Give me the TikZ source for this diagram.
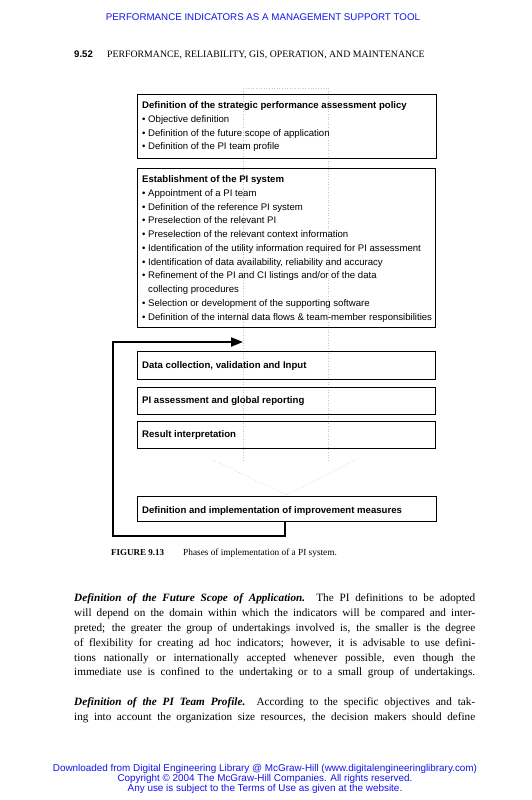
\documentclass[tikz,border=0pt]{standalone}
\usepackage{fontspec}
\setmainfont{Liberation Serif}
\setsansfont{Liberation Sans}
\usepackage{xcolor}
\usetikzlibrary{arrows.meta}
\definecolor{linkblue}{RGB}{20,20,235}

\tikzset{
  phase/.style={draw, line width=0.9pt, inner sep=0pt, anchor=north west},
  boxtext/.style={font=\sffamily\fontsize{9.6}{13.75}\selectfont, align=left, anchor=north west, inner sep=0pt},
  bodyline/.style={font=\fontsize{11.2}{14}\selectfont, anchor=base west, inner sep=0pt},
  ghost/.style={gray!45, dotted, line width=0.6pt}
}

\begin{document}
\begin{tikzpicture}[x=1pt, y=-1pt]
\useasboundingbox[fill=white] (0,0) rectangle (531,800);

% Page header
\node[font=\sffamily\fontsize{9.75}{11}\selectfont, text=linkblue, anchor=base] (runhead) at (263,21) {PERFORMANCE INDICATORS AS A MANAGEMENT SUPPORT TOOL};
\node[font=\sffamily\bfseries\fontsize{9.6}{11}\selectfont, anchor=base west, inner sep=0pt] (pagenum) at (74,57) {9.52};
\node[font=\fontsize{9.8}{11}\selectfont, anchor=base west, inner sep=0pt] (chapter) at (107,57) {PERFORMANCE, RELIABILITY, GIS, OPERATION, AND MAINTENANCE};

% Faint traces of the original arrows
\draw[ghost] (243,88) -- (328,88);
\draw[ghost] (243,88) -- (243,462);
\draw[ghost] (328,88) -- (328,462);
\draw[ghost] (213,460) -- (287,495);
\draw[ghost] (357,459) -- (287,495);

% Phase boxes
\node[phase, minimum width=299pt, minimum height=64pt] (policy) at (137,94) {};
\node[boxtext] at (142,101.5) {\textbf{Definition of the strategic performance assessment policy}\\
  • Objective definition\\
  • Definition of the future scope of application\\
  • Definition of the PI team profile};

\node[phase, minimum width=298pt, minimum height=159pt] (establish) at (137,168) {};
\node[boxtext] at (142,175.5) {\textbf{Establishment of the PI system}\\
  • Appointment of a PI team\\
  • Definition of the reference PI system\\
  • Preselection of the relevant PI\\
  • Preselection of the relevant context information\\
  • Identification of the utility information required for PI assessment\\
  • Identification of data availability, reliability and accuracy\\
  • Refinement of the PI and CI listings and/or of the data\\
  \phantom{• }collecting procedures\\
  • Selection or development of the supporting software\\
  • Definition of the internal data flows \& team-member responsibilities};

\node[phase, minimum width=298pt, minimum height=28pt] (collect) at (137,351) {};
\node[boxtext, anchor=west] at (142,366) {\textbf{Data collection, validation and Input}};

\node[phase, minimum width=298pt, minimum height=27pt] (assess) at (137,387) {};
\node[boxtext, anchor=west] at (142,401) {\textbf{PI assessment and global reporting}};

\node[phase, minimum width=298pt, minimum height=27pt] (interpret) at (137,421) {};
\node[boxtext, anchor=west] at (142,435) {\textbf{Result interpretation}};

\node[phase, minimum width=299pt, minimum height=25pt] (improve) at (137,496) {};
\node[boxtext, anchor=west] at (142,511) {\textbf{Definition and implementation of improvement measures}};

% Feedback loop
\coordinate (loopend) at (243,342);
\draw[line width=2pt, -{Triangle[length=12pt, width=9pt]}]
  (improve.south west) ++(148,0) -- ++(0,14) -| (113,342) -- (loopend);

% Caption
\node[font=\bfseries\fontsize{9}{10}\selectfont, anchor=base west, inner sep=0pt] (figno) at (111,555) {FIGURE 9.13};
\node[font=\fontsize{9.3}{10}\selectfont, anchor=base west, inner sep=0pt] (figcap) at (183,555) {Phases of implementation of a PI system.};

% Body text
\node[bodyline] (p1a) at (74,601) {\makebox[401pt][s]{\textbf{\textit{Definition of the Future Scope of Application.}}\quad The PI definitions to be adopted}};
\node[bodyline] (p1b) at (74,616) {\makebox[401pt][s]{will depend on the domain within which the indicators will be compared and inter-}};
\node[bodyline] (p1c) at (74,631) {\makebox[401pt][s]{preted; the greater the group of undertakings involved is, the smaller is the degree}};
\node[bodyline] (p1d) at (74,646) {\makebox[401pt][s]{of flexibility for creating ad hoc indicators; however, it is advisable to use defini-}};
\node[bodyline] (p1e) at (74,661) {\makebox[401pt][s]{tions nationally or internationally accepted whenever possible, even though the}};
\node[bodyline] (p1f) at (74,675) {\makebox[401pt][s]{immediate use is confined to the undertaking or to a small group of undertakings.}};
\node[bodyline] (p2a) at (74,705) {\makebox[401pt][s]{\textbf{\textit{Definition of the PI Team Profile.}}\quad According to the specific objectives and tak-}};
\node[bodyline] (p2b) at (74,720) {\makebox[401pt][s]{ing into account the organization size resources, the decision makers should define}};

% Footer
\node[font=\sffamily\fontsize{9.9}{10}\selectfont, text=linkblue, align=center, anchor=north] (footer) at (265,761) {Downloaded from Digital Engineering Library @ McGraw-Hill (www.digitalengineeringlibrary.com)\\
Copyright © 2004 The McGraw-Hill Companies. All rights reserved.\\
Any use is subject to the Terms of Use as given at the website.};
\end{tikzpicture}
\end{document}
